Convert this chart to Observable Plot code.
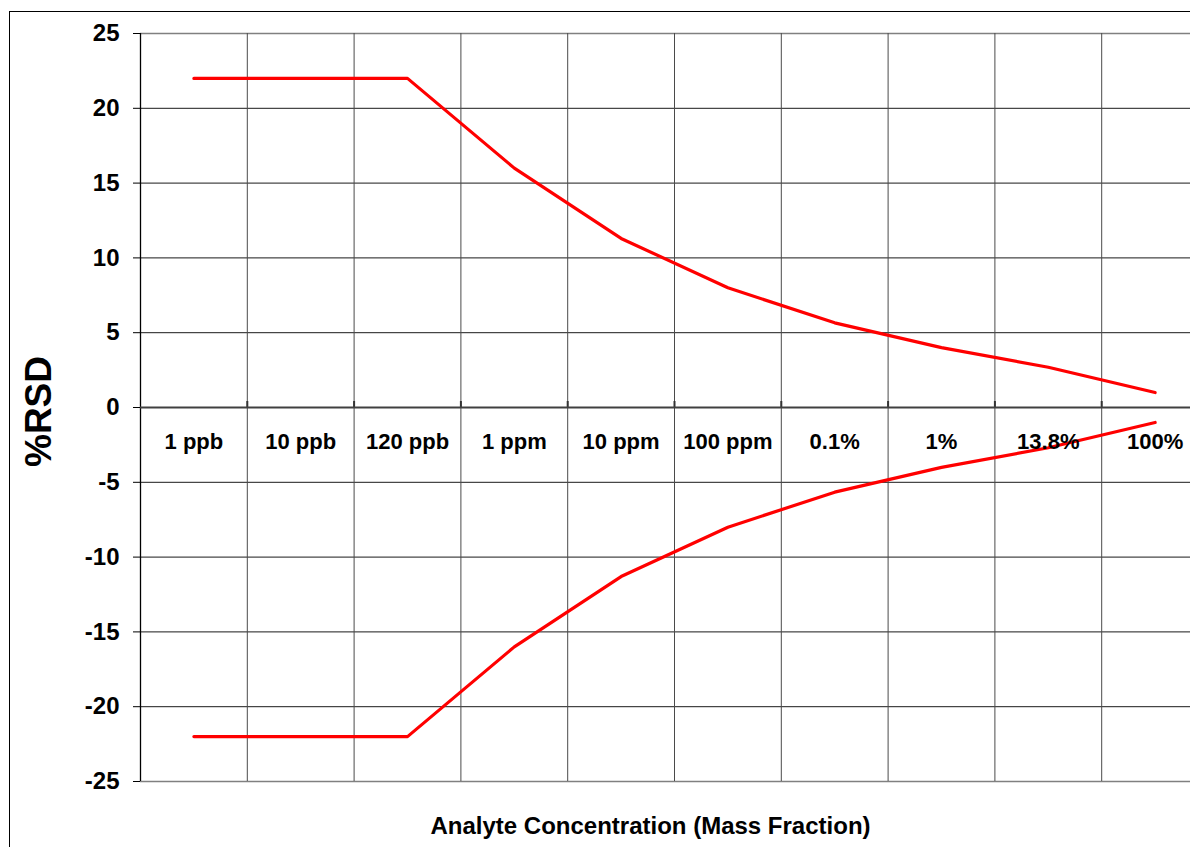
<!DOCTYPE html>
<html>
<head>
<meta charset="utf-8">
<script src="https://cdn.jsdelivr.net/npm/d3@7"></script>
<script src="https://cdn.jsdelivr.net/npm/@observablehq/plot@0.6"></script>
<style>
  html, body { margin: 0; padding: 0; background: #fff; overflow: hidden; }
  #wrap { position: relative; width: 1190px; height: 847px; overflow: hidden; }
  #border { position: absolute; left: 8.5px; top: 10.5px; width: 1300px; height: 900px;
            border-left: 1.5px solid #000; border-top: 1.5px solid #000; pointer-events: none; }
  #chart svg [aria-label^="y-axis tick label"], #chart svg [aria-label^="y-axis tick label"] text { font-size: 24px !important; font-weight: bold; }
</style>
</head>
<body>
<div id="wrap"><div id="chart"></div><div id="border"></div></div>
<script>
// Concentration categories (x axis labels)
const categories = ["1 ppb", "10 ppb", "120 ppb", "1 ppm", "10 ppm", "100 ppm", "0.1%", "1%", "13.8%", "100%"];
// Upper and lower %RSD limits
const upperRSD = [22, 22, 22, 16, 11.3, 8, 5.66, 4, 2.69, 1];
const lowerRSD = [-22, -22, -22, -16, -11.3, -8, -5.66, -4, -2.69, -1];
// Y tick values
const yTicks = [-25, -20, -15, -10, -5, 0, 5, 10, 15, 20, 25];

const rows = categories.map((c, i) => ({idx: i + 0.5, cat: c, upper: upperRSD[i], lower: lowerRSD[i]}));
const boundaries = d3.range(categories.length + 1);
const innerGrid = yTicks.filter(v => v !== 0 && Math.abs(v) !== 25);

const chart = Plot.plot({
  width: 1190,
  height: 847,
  marginLeft: 140,
  marginRight: -18,
  marginTop: 33,
  marginBottom: 66,
  style: {fontFamily: "'Liberation Sans', Arial, sans-serif", fontWeight: "bold", fontSize: "24px", color: "#000", background: "transparent"},
  x: {type: "linear", domain: [0, categories.length], axis: null},
  y: {domain: [-25, 25], ticks: yTicks, tickSize: 7, tickPadding: 14, label: null, tickFormat: d => String(d)},
  marks: [
    Plot.ruleY(innerGrid, {stroke: "#1a1a1a", strokeWidth: 1}),
    Plot.ruleY([25, -25], {stroke: "#808080", strokeWidth: 1.5}),
    Plot.ruleX(boundaries.slice(1), {stroke: "#4a4a4a", strokeWidth: 1}),
    Plot.ruleX([0], {stroke: "#000", strokeWidth: 1.3}),
    Plot.ruleX(boundaries.slice(1), {y1: 0, y2: 0.4, stroke: "#333", strokeWidth: 2}),
    Plot.ruleY([0], {stroke: "#404040", strokeWidth: 2.2}),
    Plot.line(rows, {x: "idx", y: "upper", stroke: "#ff0000", strokeWidth: 3.2}),
    Plot.line(rows, {x: "idx", y: "lower", stroke: "#ff0000", strokeWidth: 3.2}),
    Plot.text(rows, {x: "idx", y: () => 0, text: "cat", dy: 34, fontSize: 22, fill: "#000"}),
    Plot.text(["%RSD"], {text: d => d, frameAnchor: "left", textAnchor: "middle", dx: -101, dy: 4, rotate: -90, fontSize: 37, fill: "#000"}),
    Plot.text(["Analyte Concentration (Mass Fraction)"], {text: d => d, frameAnchor: "bottom", textAnchor: "middle", dx: -24, dy: 52, fontSize: 24, fill: "#000"})
  ]
});
document.getElementById("chart").appendChild(chart);
</script>
</body>
</html>
